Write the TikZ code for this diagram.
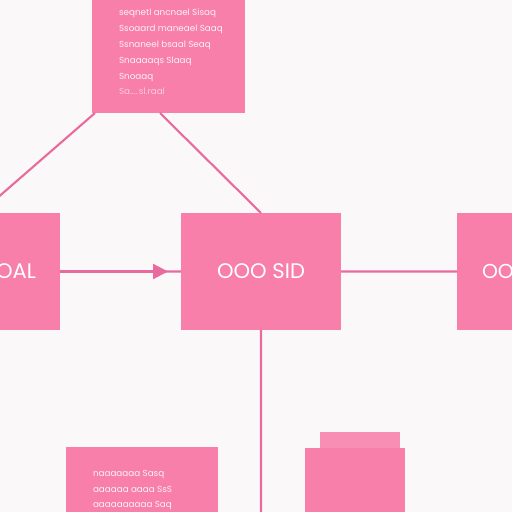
\documentclass[tikz,border=0pt]{standalone}
\usepackage{fontspec}
\setsansfont{Poppins}
\usetikzlibrary{positioning, arrows.meta, calc}
\definecolor{boxpink}{HTML}{F77FA9}
\definecolor{linepink}{HTML}{E96A9C}
\definecolor{paper}{HTML}{FBF8F9}
\tikzset{
  flow/.style={
	line width=1.2pt, % connector width
	draw=linepink, % connector colour
  },
  pinkbox/.style={fill=boxpink, draw=none, minimum height=2.34cm, minimum width=3.2cm, inner sep=0pt, outer sep=0pt},
  boxlabel/.style={inner sep=0pt, text=white, font=\sffamily\fontsize{12}{14}\selectfont},
  notetext/.style={anchor=north west, inner sep=0pt, text=white!90!boxpink, align=left, font=\sffamily\fontsize{5}{9}\selectfont},
}

\begin{document}
\begin{tikzpicture}[flow]
\useasboundingbox[fill=paper] (0,0) rectangle (10.24,10.24);
\begin{scope}
\clip (0,0) rectangle (10.24,10.24);
% top box with notes
\node[pinkbox, minimum width=3.06cm, minimum height=2.5cm, anchor=north west] (top) at (1.84,10.48) {};
\node[notetext] (toptext) at (2.36,10.08) {
  seqnetl ancnael Sisaq\\
  Ssoaard maneael Saaq\\
  Ssnaneel bsaal Seaq\\
  Snaaaaqs Slaaq\\
  Snoaaq\\
  \textcolor{white!60!boxpink}{Sa....\,sl.raal}};
% middle row
\node[pinkbox] (oal) at (-0.4,4.81) {};
\node[pinkbox] (sid) at (5.22,4.81) {};
\node[pinkbox] (oo) at (10.74,4.81) {};
\node[boxlabel] (sidtext) at (sid) {OOO SID};
\node[boxlabel, anchor=east] (oaltext) at (0.74,4.81) {OAL};
\node[boxlabel, anchor=west, font=\sffamily\fontsize{11.5}{14}\selectfont] (ootext) at (9.62,4.81) {OO};
% bottom boxes
\node[pinkbox, minimum width=3.04cm, minimum height=1.6cm, anchor=north west] (notes) at (1.32,1.3) {};
\node[notetext] (bottext) at (1.84,0.86) {
  naaaaaaa Sasq\\
  aaaaaa aaaa SsS\\
  aaaaaaaaaa Saq};
\node[pinkbox, minimum width=1.6cm, minimum height=0.4cm, anchor=south west, fill=boxpink!88!white] (tab) at (6.4,1.2) {};
\node[pinkbox, minimum width=2cm, minimum height=1.4cm, anchor=north west] (stack) at (6.1,1.28) {};
\coordinate (bottom) at (sid.south |- 0,-0.1);

\draw   ($(top.south west)+(0.06,0)$) -- (oal.north)
	($(top.south west)+(1.36,0)$) -- (sid.north)
	(oal.east) -- (sid.west)
	(sid.east) -- (oo.west)
	(sid.south) -- (bottom)
;
\draw[-{Triangle[length=0.3cm, width=0.3cm]}] (oal.east) -- ($(sid.west)+(-0.26,0)$);
\end{scope}
\end{tikzpicture}
\end{document}
